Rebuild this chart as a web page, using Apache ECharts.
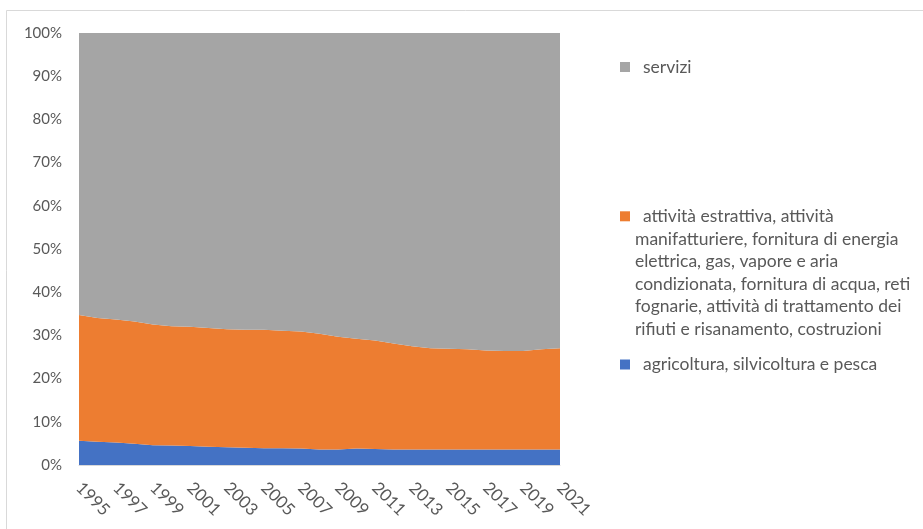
<!DOCTYPE html>
<html>
<head>
<meta charset="utf-8">
<script src="https://cdn.jsdelivr.net/npm/echarts@6/dist/echarts.min.js"></script>
<style>
html,body{margin:0;padding:0;background:#fff;}
#c{width:923px;height:529px;}
</style>
</head>
<body>
<div id="c"></div>
<script>
var years = ['1995','1996','1997','1998','1999','2000','2001','2002','2003','2004','2005','2006','2007','2008','2009','2010','2011','2012','2013','2014','2015','2016','2017','2018','2019','2020','2021'];
var agricoltura = [5.6,5.4,5.2,4.9,4.6,4.5,4.4,4.2,4.1,4.0,3.9,3.9,3.8,3.6,3.6,3.8,3.7,3.6,3.6,3.6,3.6,3.6,3.6,3.6,3.6,3.6,3.6];
var industria = [29.1,28.6,28.5,28.3,27.9,27.6,27.6,27.5,27.3,27.3,27.4,27.2,27.1,26.8,26.1,25.4,25.1,24.5,23.9,23.4,23.3,23.2,22.9,22.8,22.8,23.2,23.4];
var servizi = [65.3,66.0,66.3,66.8,67.5,67.9,68.0,68.3,68.6,68.7,68.7,68.9,69.1,69.6,70.3,70.8,71.2,71.9,72.5,73.0,73.1,73.2,73.5,73.6,73.6,73.2,73.0];
var yTicks = ['0%','10%','20%','30%','40%','50%','60%','70%','80%','90%','100%'];
var names = {
  agri: 'agricoltura, silvicoltura e pesca',
  ind: 'attività estrattiva, attività manifatturiere, fornitura di energia elettrica, gas, vapore e aria condizionata, fornitura di acqua, reti fognarie, attività di trattamento dei rifiuti e risanamento, costruzioni',
  serv: 'servizi'
};
var indLines = ['attività estrattiva, attività','manifatturiere, fornitura di energia','elettrica, gas, vapore e aria','condizionata, fornitura di acqua, reti','fognarie, attività di trattamento dei','rifiuti e risanamento, costruzioni'];

var FONT = 'Lato';
var LFS = 17.5;
var chart = echarts.init(document.getElementById('c'), null, {renderer:'canvas'});
function legendSingle(name, top) {
  return {
    data: [name], left: 620, top: top, orient: 'vertical',
    itemWidth: 10, itemHeight: 10, itemGap: 0, icon: 'rect',
    selectedMode: false, padding: 0,
    formatter: function(n){ return '{p|' + n + '}'; },
    textStyle: {fontFamily: FONT, fontSize: LFS, color: '#595959', lineHeight: 22,
      rich: {p: {fontFamily: FONT, fontSize: LFS, color: '#595959', lineHeight: 22, padding: [0,0,0,8]}}}
  };
}
function legendMulti(name, top) {
  return {
    data: [name], left: 615, top: top, orient: 'vertical',
    itemWidth: 0, itemHeight: 0, itemGap: 0, icon: 'none',
    selectedMode: false, padding: 0,
    formatter: function(){
      var s = '{box|}{t1|' + indLines[0] + '}';
      for (var i = 1; i < indLines.length; i++) s += '\n{t2|' + indLines[i] + '}';
      return s;
    },
    textStyle: {fontFamily: FONT, fontSize: LFS, color: '#595959', lineHeight: 22.6,
      rich: {
        box: {width: 10, height: 10, backgroundColor: '#ED7D31'},
        t1: {fontFamily: FONT, fontSize: LFS, color: '#595959', lineHeight: 22.6, padding: [0,0,0,13]},
        t2: {fontFamily: FONT, fontSize: LFS, color: '#595959', lineHeight: 22.6, padding: [0,0,0,15]}
      }}
  };
}
chart.setOption({
  animation: false,
  backgroundColor: '#fff',
  graphic: [{type:'rect', shape:{x:6.5,y:10.5,width:940,height:540}, style:{fill:'none', stroke:'#d9d9d9', lineWidth:1}}],
  color: ['#4472C4','#ED7D31','#A5A5A5'],
  grid: {left: 79, right: 363, top: 33, bottom: 64},
  legend: [
    legendSingle(names.serv, 56),
    legendMulti(names.ind, 205),
    legendSingle(names.agri, 353.5)
  ],
  xAxis: {
    type: 'category', data: years, boundaryGap: false,
    axisLine: {show: true, lineStyle: {color: '#d9d9d9'}},
    axisTick: {show: false},
    axisLabel: {interval: 1, rotate: -45, margin: 20, fontFamily: FONT, fontSize: 17, color: '#595959'}
  },
  yAxis: {
    type: 'value', min: 0, max: 100, interval: 10,
    axisLine: {show: false}, axisTick: {show: false},
    splitLine: {show: false},
    axisLabel: {margin: 17, fontFamily: FONT, fontSize: 15, color: '#595959',
      formatter: function(v){ return yTicks[Math.round(v/10)]; }}
  },
  series: [
    {name: names.agri, type: 'line', stack: 'a', data: agricoltura, showSymbol: false, lineStyle:{width:0}, areaStyle:{opacity:1}},
    {name: names.ind, type: 'line', stack: 'a', data: industria, showSymbol: false, lineStyle:{width:0}, areaStyle:{opacity:1}},
    {name: names.serv, type: 'line', stack: 'a', data: servizi, showSymbol: false, lineStyle:{width:0}, areaStyle:{opacity:1}}
  ]
});
</script>
</body>
</html>
